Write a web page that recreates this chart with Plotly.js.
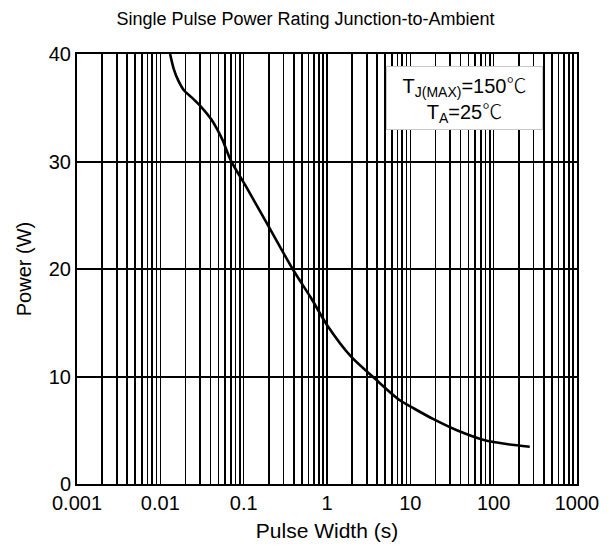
<!DOCTYPE html>
<html>
<head>
<meta charset="utf-8">
<script src="https://cdn.plot.ly/plotly-3.0.1.min.js"></script>
<style>
html,body{margin:0;padding:0;background:#fff;}
#chart{width:611px;height:549px;}
</style>
</head>
<body>
<div id="chart"></div>
<script>
// Data
const pulseWidth = [0.0131, 0.0145, 0.0165, 0.0193, 0.025, 0.032, 0.041, 0.055, 0.070, 0.110, 0.185, 0.387, 0.644, 1.0, 1.95, 3.72, 7.41, 11.2, 18.7, 35.6, 74.3, 142, 271];
const power      = [40.0,   38.6,   37.5,   36.6,   35.8,  34.95, 33.9,  32.1,  30.1,  27.5,  24.4,  20.0,  17.3,  14.8, 11.84, 9.83, 7.81, 7.0, 6.05, 5.02, 4.12, 3.72, 3.47];

const decadeLabels = ['0.001', '0.01', '0.1', '1', '10', '100', '1000'];
const yTicks = [0, 10, 20, 30, 40];

// Grid positions: every 1..9 x 10^k step in each decade
const xTickVals = [];
const xTickText = [];
decadeLabels.forEach((lab, i) => {
  const base = Number(lab);
  const steps = i < decadeLabels.length - 1 ? 9 : 1;
  for (let m = 1; m <= steps; m++) {
    xTickVals.push(base * m);
    xTickText.push(m === 1 ? lab : '');
  }
});

const font = 'Liberation Sans, Arial, Helvetica, sans-serif';
const degC = '<span style="font-family:Noto Sans CJK SC;font-weight:300">℃</span>';

const trace = {
  x: pulseWidth,
  y: power,
  type: 'scatter',
  mode: 'lines',
  line: {color: '#000', width: 2.6, shape: 'spline', smoothing: 0.8},
  hoverinfo: 'skip',
  showlegend: false
};

const layout = {
  width: 611,
  height: 549,
  margin: {l: 77, r: 34, t: 54, b: 65},
  paper_bgcolor: '#fff',
  plot_bgcolor: '#fff',
  font: {family: font, size: 20, color: '#000'},
  title: {
    text: 'Single Pulse Power Rating Junction-to-Ambient',
    font: {family: font, size: 18, color: '#000'},
    x: 0.5, xref: 'container', xanchor: 'center',
    y: 1, yref: 'container', yanchor: 'top', pad: {t: 12}
  },
  xaxis: {
    type: 'log',
    range: [-3, 3],
    tickmode: 'array',
    tickvals: xTickVals,
    ticktext: xTickText,
    showgrid: true,
    gridcolor: '#000',
    gridwidth: 1.6,
    showline: true,
    linecolor: '#000',
    linewidth: 2,
    mirror: true,
    ticks: '',
    zeroline: false,
    tickfont: {family: font, size: 20, color: '#000'},
    title: {text: 'Pulse Width (s)', font: {family: font, size: 21, color: '#000'}, standoff: 10}
  },
  yaxis: {
    range: [0, 40],
    tickmode: 'array',
    tickvals: yTicks,
    showgrid: true,
    gridcolor: '#000',
    gridwidth: 2,
    showline: true,
    linecolor: '#000',
    linewidth: 2,
    mirror: true,
    ticks: '',
    zeroline: false,
    tickfont: {family: font, size: 20, color: '#000'},
    title: {text: 'Power (W)', font: {family: font, size: 20, color: '#000'}, standoff: 12}
  },
  annotations: [{
    xref: 'paper', yref: 'paper',
    x: 0.775, y: 0.898,
    xanchor: 'center', yanchor: 'middle',
    showarrow: false,
    text: 'T<sub>J(MAX)</sub>=150' + degC + '<br>T<sub>A</sub>=25' + degC,
    font: {family: font, size: 20, color: '#000'},
    bgcolor: '#fff',
    bordercolor: '#c8c8c8',
    borderwidth: 1,
    borderpad: 3,
    width: 149,
    align: 'center'
  }]
};

Plotly.newPlot('chart', [trace], layout, {displayModeBar: false, staticPlot: true});
</script>
</body>
</html>
